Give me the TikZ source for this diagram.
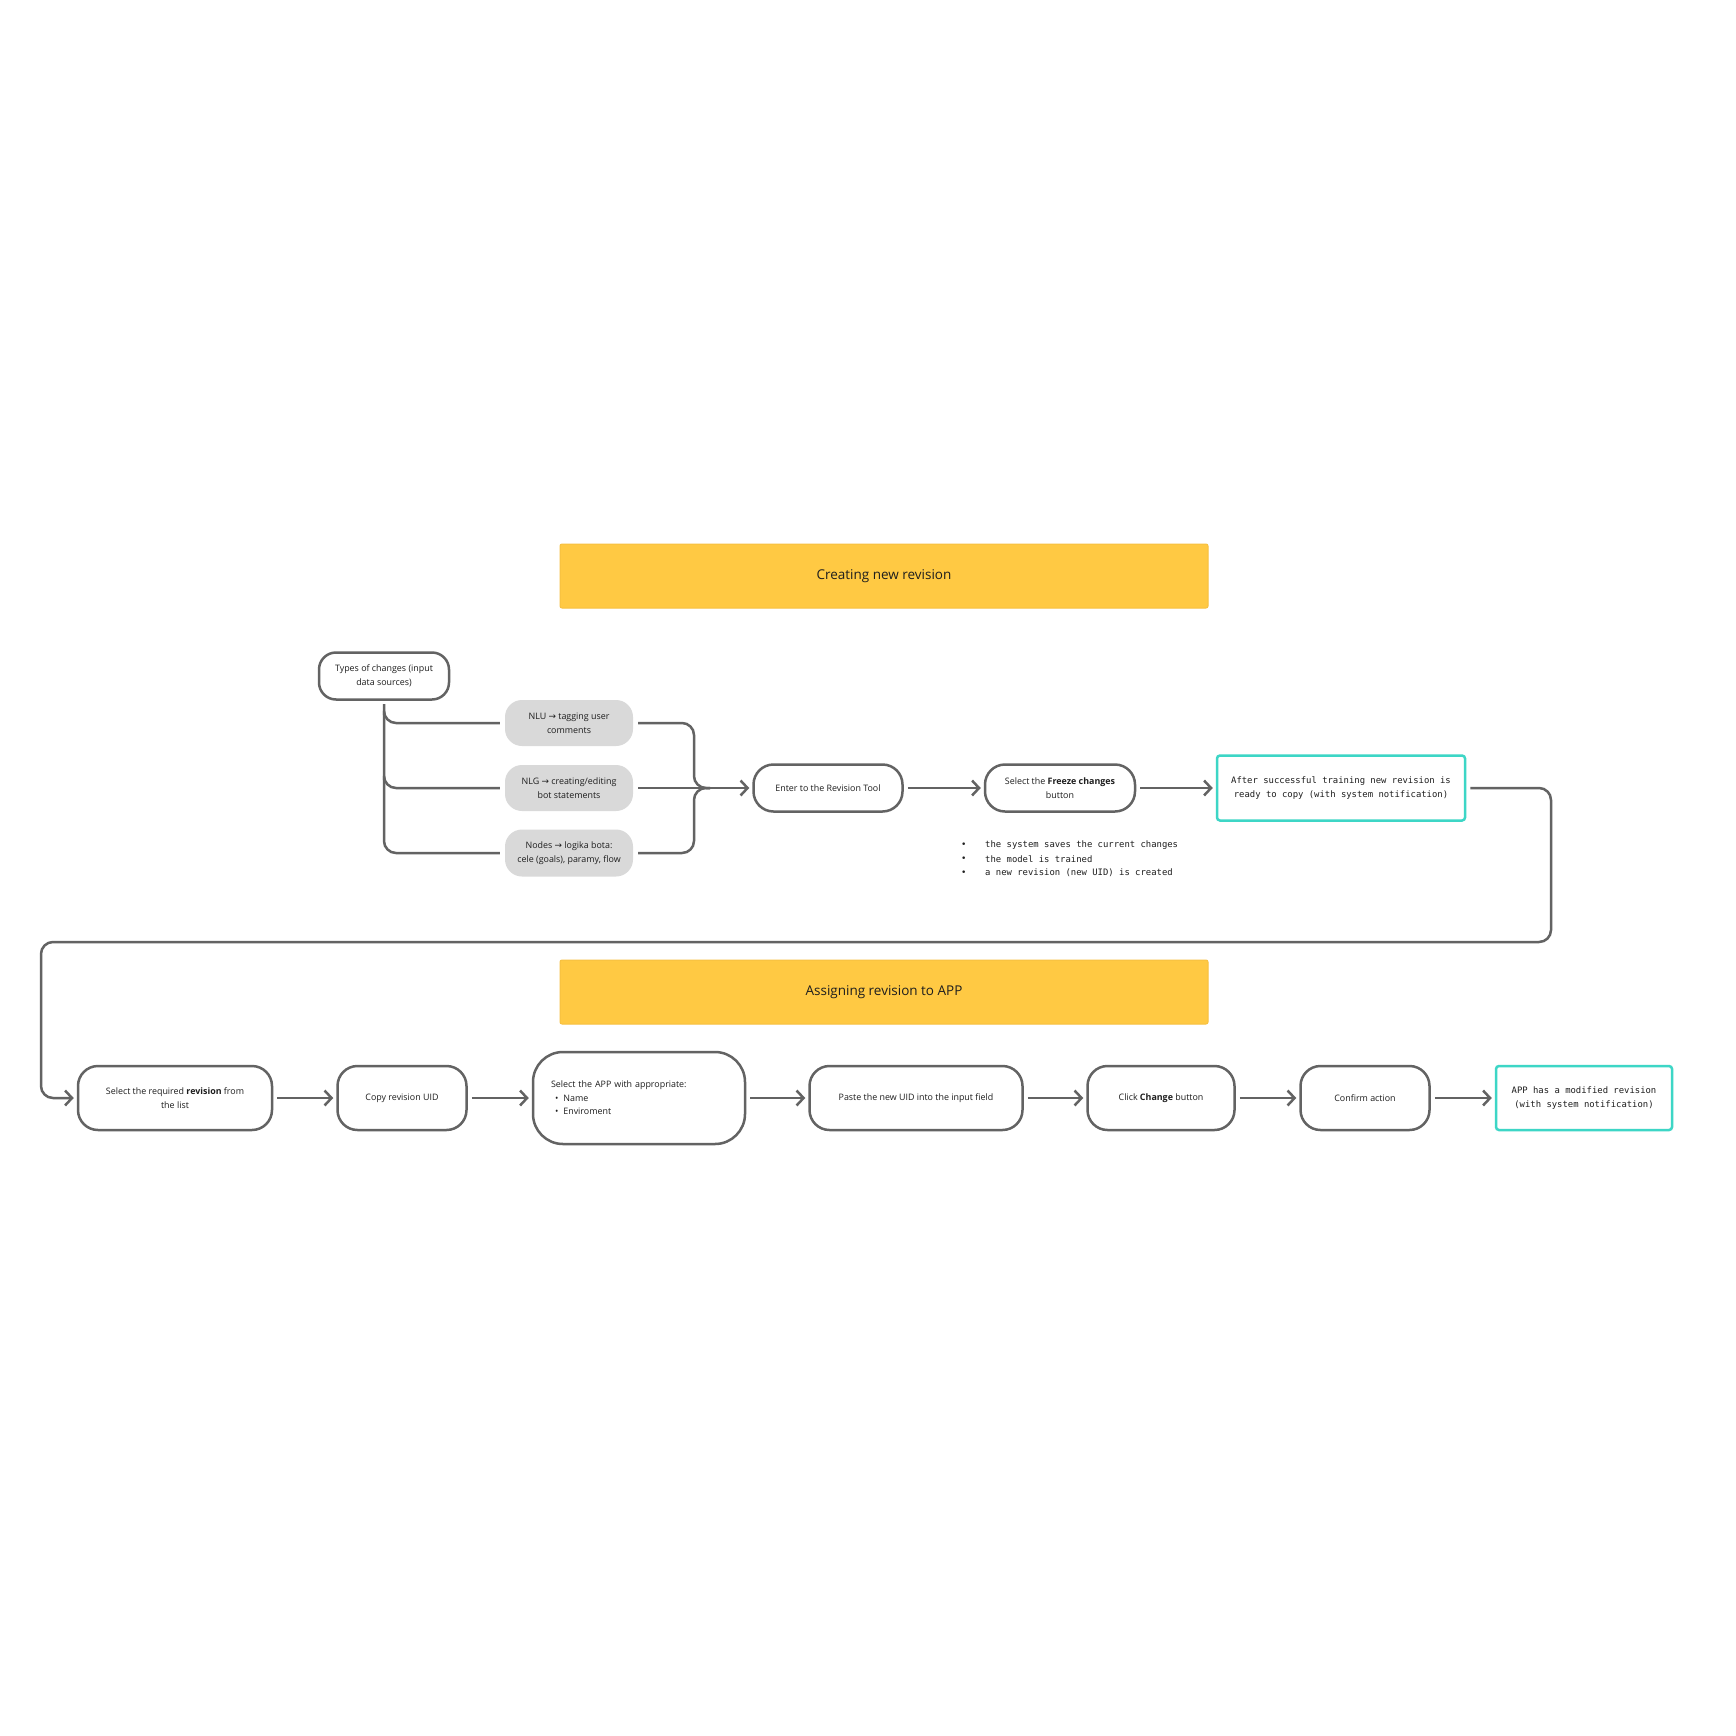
\documentclass[tikz,border=0pt]{standalone}
\usepackage{fontspec}
\setmainfont{Open Sans}
\setmonofont{DejaVu Sans Mono}
\newfontfamily\symfont{DejaVu Sans}
\newcommand{\rarr}{{\symfont →}}
\usetikzlibrary{arrows.meta}
\definecolor{linegray}{HTML}{636363}
\definecolor{hdrfill}{HTML}{FFC943}
\definecolor{hdredge}{HTML}{F7C040}
\definecolor{teal}{HTML}{3DD6C6}
\definecolor{chipfill}{HTML}{D9D9D9}
\definecolor{txt}{HTML}{1E1E1E}
\tikzset{
  hdr/.style={fill=hdrfill, draw=hdredge, line width=1pt, rounded corners=2pt, font=\fontsize{13.5}{16}\selectfont, text=txt},
  stepbox/.style={draw=linegray, line width=2.5pt, rounded corners=20pt, fill=white, align=center, font=\fontsize{8.9}{14.4}\selectfont, text=txt, inner sep=0pt},
  chip/.style={fill=chipfill, rounded corners=17pt, align=center, font=\fontsize{8.9}{14.4}\selectfont, text=txt, inner sep=0pt},
  result/.style={draw=teal, line width=2.5pt, rounded corners=3pt, fill=white, align=center, font=\ttfamily\fontsize{8.9}{14.4}\selectfont, text=txt, inner sep=0pt},
  conn/.style={draw=linegray, line width=2.5pt, rounded corners=12pt},
  arr/.style={conn, -{Straight Barb[length=7pt,width=15pt,line width=2.5pt]}},
  note/.style={font=\ttfamily\fontsize{8.9}{14}\selectfont, text=txt, inner sep=0pt, anchor=west}
}
\begin{document}
\begin{tikzpicture}[x=1pt,y=-1pt]
\path[use as bounding box] (0,0) rectangle (1736,1736);
\fill[white] (0,0) rectangle (1736,1736);

\node[hdr, minimum width=648, minimum height=64] (h1) at (884,576) {Creating new revision};
\node[hdr, minimum width=648, minimum height=64] (h2) at (884,992) {Assigning revision to APP};

\node[stepbox, minimum width=130, minimum height=47, rounded corners=17pt] (types) at (384,676) {Types of changes (input\\data sources)};
\node[chip, minimum width=128, minimum height=46] (nlu) at (569,723) {NLU \rarr{} tagging user\\comments};
\node[chip, minimum width=128, minimum height=46] (nlg) at (569,788) {NLG \rarr{} creating/editing\\bot statements};
\node[chip, minimum width=128, minimum height=47] (nodes) at (569,853) {Nodes \rarr{} logika bota:\\cele (goals), paramy, flow};

\node[stepbox, minimum width=149, minimum height=47] (enter) at (828,788) {Enter to the Revision Tool};
\node[stepbox, minimum width=150, minimum height=47] (freeze) at (1060,788) {Select the \textbf{Freeze changes}\\button};
\node[result, minimum width=248, minimum height=65] (after) at (1341,788) {After successful training new revision is\\ ready to copy (with system notification)};

\node[note] (b1) at (961,845) {•};
\node[note] (b2) at (961,859) {•};
\node[note] (b3) at (961,873) {•};
\node[note] (n1) at (985,845) {the system saves the current changes};
\node[note] (n2) at (985,859) {the model is trained};
\node[note] (n3) at (985,873) {a new revision (new UID) is created};

\node[stepbox, minimum width=194, minimum height=64] (sel) at (175,1098) {Select the required \textbf{revision} from\\the list};
\node[stepbox, minimum width=129, minimum height=64] (copy) at (402,1098) {Copy revision UID};
\node[stepbox, minimum width=212, minimum height=92, rounded corners=30pt, text width=176, inner xsep=18pt, align=left] (app) at (639,1098) {Select the APP with appropriate:\\[-1pt]\hspace*{4pt}\textbullet\hspace{5pt}Name\\[-1pt]\hspace*{4pt}\textbullet\hspace{5pt}Enviroment};
\node[stepbox, minimum width=213, minimum height=64] (paste) at (916,1098) {Paste the new UID into the input field};
\node[stepbox, minimum width=147, minimum height=64] (click) at (1161,1098) {Click \textbf{Change} button};
\node[stepbox, minimum width=129, minimum height=64] (confirm) at (1365,1098) {Confirm action};
\node[result, minimum width=176, minimum height=64] (mod) at (1584,1098) {APP has a modified revision\\ (with system notification)};

% trunk from types
\coordinate (tb) at (384,704);
\draw[conn] (tb) -- (384,853) -- ([xshift=-5pt]nodes.west);
\draw[conn] (384,780) -- (384,788) -- ([xshift=-5pt]nlg.west);
\draw[conn] (384,715) -- (384,723) -- ([xshift=-5pt]nlu.west);

% merge into enter
\coordinate (mg) at (694,788);
\draw[conn] ([xshift=5pt]nlu.east) -- (694,723) -- (694,788) -- (710,788);
\draw[conn] ([xshift=5pt]nodes.east) -- (694,853) -- (694,788) -- (710,788);
\draw[arr] ([xshift=5pt]nlg.east) -- ([xshift=-3pt]enter.west);

\draw[arr] ([xshift=4pt]enter.east) -- ([xshift=-3pt]freeze.west);
\draw[arr] ([xshift=4pt]freeze.east) -- ([xshift=-3pt]after.west);

\draw[arr] ([xshift=4pt]after.east) -- (1551,788) -- (1551,942) -- (41,942) -- (41,1098) -- ([xshift=-3pt]sel.west);

\draw[arr] ([xshift=4pt]sel.east) -- ([xshift=-3pt]copy.west);
\draw[arr] ([xshift=4pt]copy.east) -- ([xshift=-3pt]app.west);
\draw[arr] ([xshift=4pt]app.east) -- ([xshift=-3pt]paste.west);
\draw[arr] ([xshift=4pt]paste.east) -- ([xshift=-3pt]click.west);
\draw[arr] ([xshift=4pt]click.east) -- ([xshift=-3pt]confirm.west);
\draw[arr] ([xshift=4pt]confirm.east) -- ([xshift=-3pt]mod.west);
\end{tikzpicture}
\end{document}
